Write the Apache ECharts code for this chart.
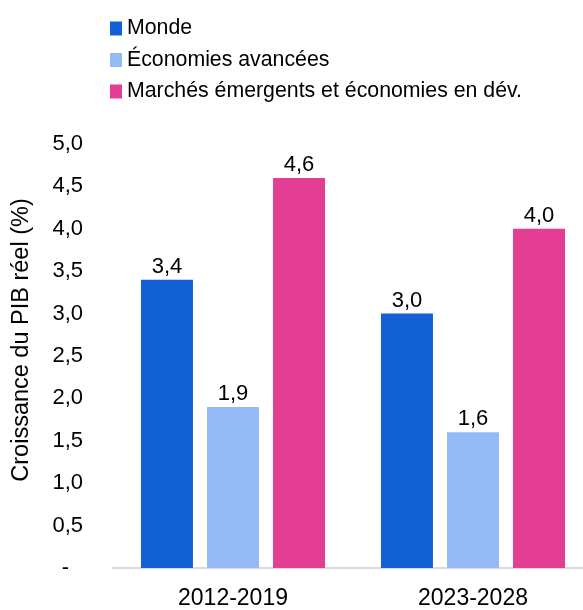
<!DOCTYPE html>
<html>
<head>
<meta charset="utf-8">
<script src="https://cdn.jsdelivr.net/npm/echarts@6/dist/echarts.min.js"></script>
<style>
  html, body { margin: 0; padding: 0; background: #ffffff; overflow: hidden; }
  /* the plot runs slightly past the right edge of the window */
  #chart { width: 600px; height: 610px; }
</style>
</head>
<body>
<div id="chart"></div>
<script>
// Periods on the category axis
const periods = ['2012-2019', '2023-2028'];

// Real GDP growth (%) by country group
const monde = [3.4, 3.0];
const avancees = [1.9, 1.6];
const emergents = [4.6, 4.0];

const seriesNames = ['Monde', 'Économies avancées', 'Marchés émergents et économies en dév.'];
const seriesColors = ['#1360D6', '#94BBF5', '#E33D94'];

// Value axis ticks
const yMin = 0, yMax = 5, yStep = 0.5;

const FONT = 'Liberation Sans, Arial, sans-serif';
const fmt = v => v.toFixed(1).replace('.', ',');

const chart = echarts.init(document.getElementById('chart'), null, { renderer: 'canvas' });

const makeSeries = (name, data, color) => ({
  name: name,
  type: 'bar',
  data: data,
  barWidth: 52,
  barGap: '27%',
  itemStyle: { color: color },
  label: {
    show: true,
    position: 'top',
    distance: 2,
    color: '#000',
    fontFamily: FONT,
    fontSize: 22,
    formatter: p => fmt(p.value)
  }
});

chart.setOption({
  animation: false,
  textStyle: { fontFamily: FONT },
  legend: {
    orient: 'vertical',
    left: 105,
    top: 13,
    itemWidth: 12,
    itemHeight: 14,
    itemGap: 10.5,
    icon: 'rect',
    textStyle: { fontSize: 21.3, color: '#000', fontFamily: FONT },
    data: seriesNames
  },
  grid: {
    left: 113,
    top: 144,
    width: 480,
    bottom: 41,
    containLabel: false
  },
  xAxis: {
    type: 'category',
    data: periods,
    axisLine: { show: true, lineStyle: { color: '#d9d9d9', width: 2 } },
    axisTick: { show: false },
    axisLabel: { color: '#000', fontSize: 23, fontFamily: FONT, margin: 19 }
  },
  yAxis: {
    type: 'value',
    min: yMin,
    max: yMax,
    interval: yStep,
    name: 'Croissance du PIB réel (%)',
    nameLocation: 'middle',
    nameRotate: 90,
    nameGap: 79,
    nameTextStyle: { color: '#000', fontSize: 23.5, fontFamily: FONT, padding: [0, 0, 0, 32] },
    axisLine: { show: false },
    axisTick: { show: false },
    splitLine: { show: false },
    axisLabel: {
      color: '#000',
      fontSize: 22,
      fontFamily: FONT,
      margin: 30,
      formatter: v => v === 0 ? '{d|-}' : fmt(v),
      rich: {
        d: { fontSize: 22, fontFamily: FONT, color: '#000', padding: [0, 14, 0, 0] }
      }
    }
  },
  series: [
    makeSeries(seriesNames[0], monde, seriesColors[0]),
    makeSeries(seriesNames[1], avancees, seriesColors[1]),
    makeSeries(seriesNames[2], emergents, seriesColors[2])
  ]
});
</script>
</body>
</html>
